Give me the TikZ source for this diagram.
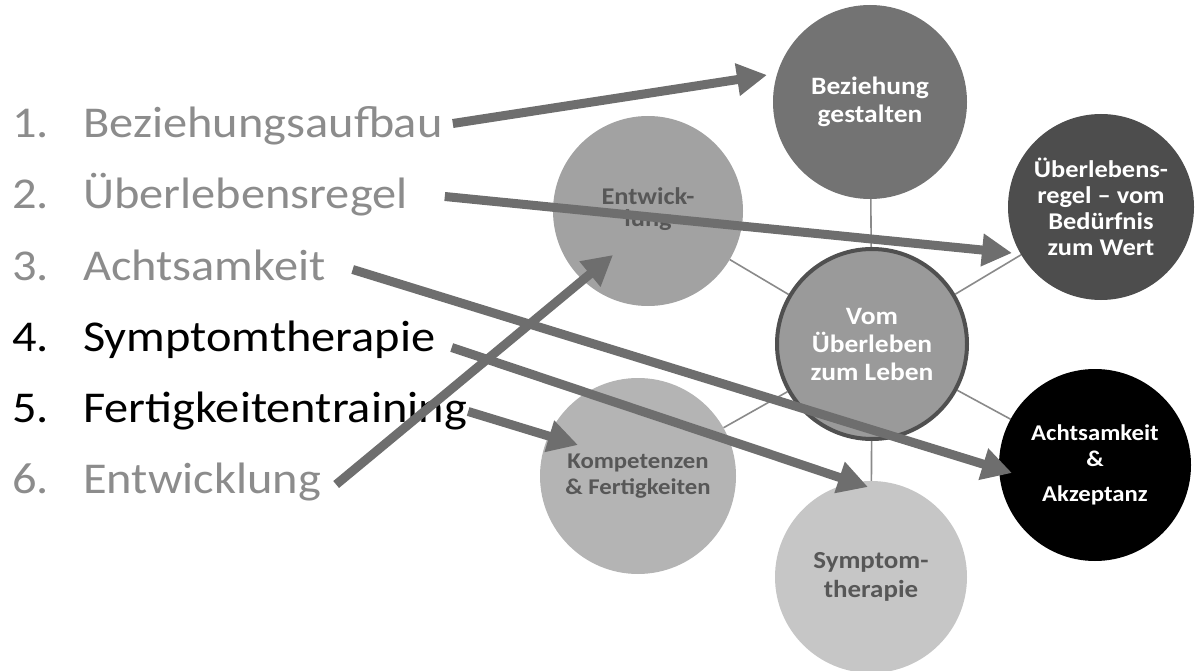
\documentclass[tikz,border=0pt]{standalone}
\usepackage{fontspec}
\setmainfont[FakeStretch=1.1]{Carlito}
\usetikzlibrary{arrows.meta,backgrounds}
\definecolor{arrowgray}{HTML}{6E6E6E}
\definecolor{listgray}{HTML}{8C8C8C}
\definecolor{darktext}{HTML}{575757}
\definecolor{linkgray}{HTML}{8A8A8A}
\tikzset{
	circ/.style={circle,inner sep=0pt,minimum size=192pt,align=center,text=white,
		font=\bfseries\fontsize{25}{28}\selectfont},
	smalltext/.style={font=\bfseries\fontsize{22.5}{26}\selectfont},
	item/.style={anchor=base west,inner sep=0pt,text height=30pt,text depth=9pt,
		font=\fontsize{44}{50}\selectfont},
	link/.style={draw=linkgray,line width=1.6pt},
	arr/.style={draw=arrowgray,line width=9pt,-{Triangle[width=31pt,length=30pt]}},
}
\begin{document}
\begin{tikzpicture}[x=1pt,y=-1pt]
	\useasboundingbox (0,0) rectangle (1197,671);
	% numbered list
	\foreach \t/\c [count=\i] in {Beziehungsaufbau/listgray,Überlebensregel/listgray,
		Achtsamkeit/listgray,Symptomtherapie/black,Fertigkeitentraining/black,Entwicklung/listgray}{
		\node[item,text=\c] (n\i) at (12,{138+71*(\i-1)}) {\i.};
		\node[item,text=\c] (l\i) at (83,{138+71*(\i-1)}) {\t};
	}
	% circles
	\node[circ,fill={rgb,255:red,115;green,115;blue,115},minimum size=194pt] (bez) at (870,102) {Beziehung\\gestalten};
	\node[circ,fill={rgb,255:red,77;green,77;blue,77},minimum size=186pt,
		font=\bfseries\fontsize{24}{26}\selectfont] (ueb) at (1101,207) {Überlebens-\\regel -- vom\\Bedürfnis\\zum Wert};
	\node[circ,smalltext,fill=black] (ach) at (1095,465) {Achtsamkeit\\\&\\[9pt]Akzeptanz};
	\node[circ,fill={rgb,255:red,198;green,198;blue,198},text=darktext,
		font=\bfseries\fontsize{24.5}{29}\selectfont] (sym) at (871,577) {Symptom-\\therapie};
	\node[circ,smalltext,fill={rgb,255:red,180;green,180;blue,180},text=darktext,minimum size=196pt] (kom) at (638,476) {Kompetenzen\\\& Fertigkeiten};
	\node[circ,fill={rgb,255:red,162;green,162;blue,162},text=darktext,minimum size=190pt,
		font=\bfseries\fontsize{24}{28}\selectfont] (ent) at (648,211) {\raisebox{8pt}{\shortstack{Entwick-\\[2pt]lung}}};
	\node[circ,fill={rgb,255:red,154;green,154;blue,154},draw={rgb,255:red,80;green,80;blue,80},
		line width=4pt,minimum size=190pt] (ctr) at (872,344) {Vom\\Überleben\\zum Leben};
	\begin{scope}[on background layer]
		\foreach \o in {bez,ueb,ach,sym,kom,ent}
			\draw[link] (ctr) -- (\o);
	\end{scope}
	% arrows
	\coordinate (e1) at (767,75);
	\coordinate (e2) at (1012,253);
	\coordinate (e3) at (1012,473);
	\coordinate (e4) at (868,487);
	\coordinate (e5) at (578,445);
	\coordinate (e6) at (613,255);
	\draw[arr] ([shift={(10,-4)}]l1.east) -- (e1);
	\draw[arr] ([shift={(37,-2)}]l2.east) -- (e2);
	\draw[arr] ([shift={(27,0)}]l3.east) -- (e3);
	\draw[arr] ([shift={(16,7)}]l4.east) -- (e4);
	\draw[arr] ([shift={(1,0)}]l5.east) -- (e5);
	\draw[arr] ([shift={(15,2)}]l6.east) -- (e6);
\end{tikzpicture}
\end{document}
